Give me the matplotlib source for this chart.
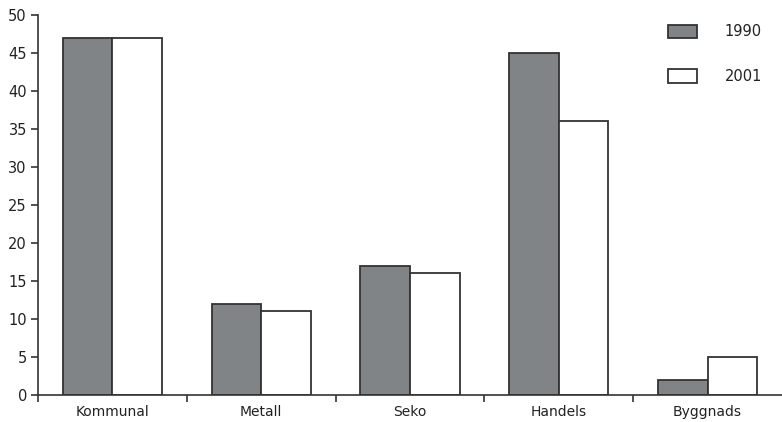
import matplotlib
matplotlib.use("Agg")
import matplotlib.pyplot as plt
import numpy as np

categories = ["Kommunal", "Metall", "Seko", "Handels", "Byggnads"]
values_1990 = [47, 12, 17, 45, 2]
values_2001 = [47, 11, 16, 36, 5]
series_labels = ["1990", "2001"]
yticks = list(range(0, 51, 5))

plt.rcParams['font.family'] = ['DejaVu Sans']
fig = plt.figure(figsize=(7.82, 4.22), dpi=100)
ax = fig.add_axes([38/782, 27/422, 744/782, 380/422])

x = np.arange(len(categories))
w = 1/3
edge = "#333333"
ax.bar(x - w/2, values_1990, width=w, color="#808486", edgecolor=edge, linewidth=1.3, label=series_labels[0])
ax.bar(x + w/2, values_2001, width=w, color="white", edgecolor=edge, linewidth=1.3, label=series_labels[1])

ax.set_xlim(-0.5, len(categories) - 0.5)
ax.set_ylim(0, 50)
ax.set_yticks(yticks)
ax.set_xticks(x)
ax.set_xticklabels(categories)
ax.set_xticks(np.arange(len(categories)) - 0.5, minor=True)
ax.tick_params(axis='x', which='major', length=0, pad=7.5, labelsize=10, labelcolor="#222222")
ax.tick_params(axis='x', which='minor', length=5, width=1.2, color=edge, direction='out')
ax.tick_params(axis='y', length=5, width=1.2, color=edge, labelsize=10.5, labelcolor="#222222", pad=3)

for s in ["top", "right"]:
    ax.spines[s].set_visible(False)
for s in ["left", "bottom"]:
    ax.spines[s].set_color(edge)
    ax.spines[s].set_linewidth(1.2)

leg = ax.legend(loc="upper right", bbox_to_anchor=(775/782, 1 - 11/422), bbox_transform=fig.transFigure,
                frameon=False, handlelength=1.95, handleheight=1.0, labelspacing=2.05,
                handletextpad=1.9, fontsize=10.5)
for t in leg.get_texts():
    t.set_color("#222222")

fig.savefig("out.png", dpi=100)
